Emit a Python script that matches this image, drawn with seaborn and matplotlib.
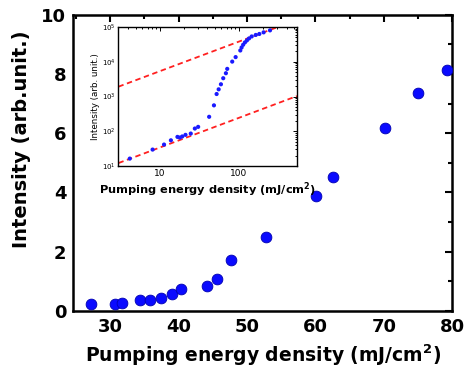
import matplotlib
matplotlib.use("Agg")
import matplotlib.pyplot as plt
from matplotlib.ticker import MultipleLocator, LogLocator, NullFormatter
import seaborn as sns
import pandas as pd

# main data
energy = [27.2, 30.7, 31.8, 34.3, 35.85, 37.4, 39.0, 40.4, 44.1, 45.6, 47.7, 52.8,
          60.1, 62.6, 70.2, 75.0, 79.2]
intensity = [0.24, 0.24, 0.26, 0.35, 0.38, 0.44, 0.57, 0.74, 0.84, 1.07, 1.73, 2.5,
             3.89, 4.53, 6.18, 7.35, 8.12]

# inset data (log-log)
inset_energy = [4.17, 8.1, 11.3, 13.8, 16.7, 17.9, 19.2, 21.1, 24.6, 27.7, 30.5, 42,
                48.3, 52.2, 55.4, 59.2, 63.3, 68.4, 71.1, 82.2, 90.8, 104, 108, 113,
                119, 126, 134, 145, 163, 181, 205, 247]
inset_intensity = [16.4, 29.8, 41.5, 55, 69, 66, 71, 79, 86, 120, 134, 261,
                   557, 1180, 1610, 2250, 3360, 4680, 6240, 10100, 13600, 21100, 25700, 30800,
                   36000, 41000, 46800, 53400, 59000, 63000, 70000, 80000]

# fit lines (endpoints)
fit_x = [3, 540]
fit_upper = [1920, 160000]
fit_lower = [12.2, 1030]

sns.set_theme(style="white")
plt.rcParams['font.family'] = ['DejaVu Sans']
plt.rcParams['text.color'] = 'black'
plt.rcParams['axes.labelcolor'] = 'black'
plt.rcParams['mathtext.default'] = 'regular'

fig = plt.figure(figsize=(4.72, 3.8), dpi=100)
ax = fig.add_axes([0.155, 0.182, 0.803, 0.779])

df = pd.DataFrame({"x": energy, "y": intensity})
sns.scatterplot(data=df, x="x", y="y", ax=ax, s=60, color="#0a0aff",
                edgecolor="#0000b0", linewidth=0.6, zorder=3)
ax.set_xlim(24.6, 80)
ax.set_ylim(0, 10)
ax.xaxis.set_major_locator(MultipleLocator(10))
ax.xaxis.set_minor_locator(MultipleLocator(5))
ax.yaxis.set_major_locator(MultipleLocator(2))
ax.yaxis.set_minor_locator(MultipleLocator(1))
ax.tick_params(which='both', direction='in', top=True, right=True, width=1.5,
               colors='black', labelcolor='black')
ax.tick_params(which='major', length=5, labelsize=13, pad=5)
ax.tick_params(which='minor', length=3)
for lab in ax.get_xticklabels() + ax.get_yticklabels():
    lab.set_fontweight('bold')
for sp in ax.spines.values():
    sp.set_linewidth(1.8)
    sp.set_color('black')
ax.set_xlabel("Pumping energy density (mJ/cm$^\\mathbf{2}$)", fontsize=13.5,
              fontweight='bold', labelpad=5)
ax.set_ylabel("Intensity (arb.unit.)", fontsize=14, fontweight='bold')
ax.yaxis.set_label_coords(-0.112, 0.58)

# inset
ins = fig.add_axes([0.251, 0.563, 0.378, 0.366])
ins.set_xscale('log')
ins.set_yscale('log')
ins.plot(fit_x, fit_upper, ls=(0, (3, 2)), color='#ff2020', lw=1.3, zorder=2)
ins.plot(fit_x, fit_lower, ls=(0, (3, 2)), color='#ff2020', lw=1.3, zorder=2)
dfi = pd.DataFrame({"x": inset_energy, "y": inset_intensity})
sns.scatterplot(data=dfi, x="x", y="y", ax=ins, s=9, color="#1a1aff", edgecolor='none', zorder=3)
ins.set_xlim(3, 540)
ins.set_ylim(10, 1e5)
ins.yaxis.set_major_locator(LogLocator(base=10, numticks=10))
ins.yaxis.set_minor_locator(LogLocator(base=10, subs=range(2, 10), numticks=10))
ins.xaxis.set_minor_locator(LogLocator(base=10, subs=range(2, 10), numticks=10))
ins.xaxis.set_minor_formatter(NullFormatter())
ins.yaxis.set_minor_formatter(NullFormatter())
ins.set_xticks([10, 100])
ins.set_xticklabels(["10", "100"])
ins.tick_params(which='both', direction='in', top=True, right=True, width=0.7,
                colors='black', labelcolor='black')
ins.tick_params(which='major', length=3, pad=2)
ins.tick_params(axis='x', labelsize=6.5)
ins.tick_params(axis='y', labelsize=5)
ins.tick_params(which='minor', length=1.5)
for sp in ins.spines.values():
    sp.set_linewidth(1.0)
    sp.set_color('black')
ins.set_xlabel("Pumping energy density (mJ/cm$^2$)", fontsize=8.2,
               fontweight='bold', labelpad=2)
ins.set_ylabel("Intensity (arb. unit.)", fontsize=6.3, labelpad=1)

fig.savefig("out.png", dpi=100)
